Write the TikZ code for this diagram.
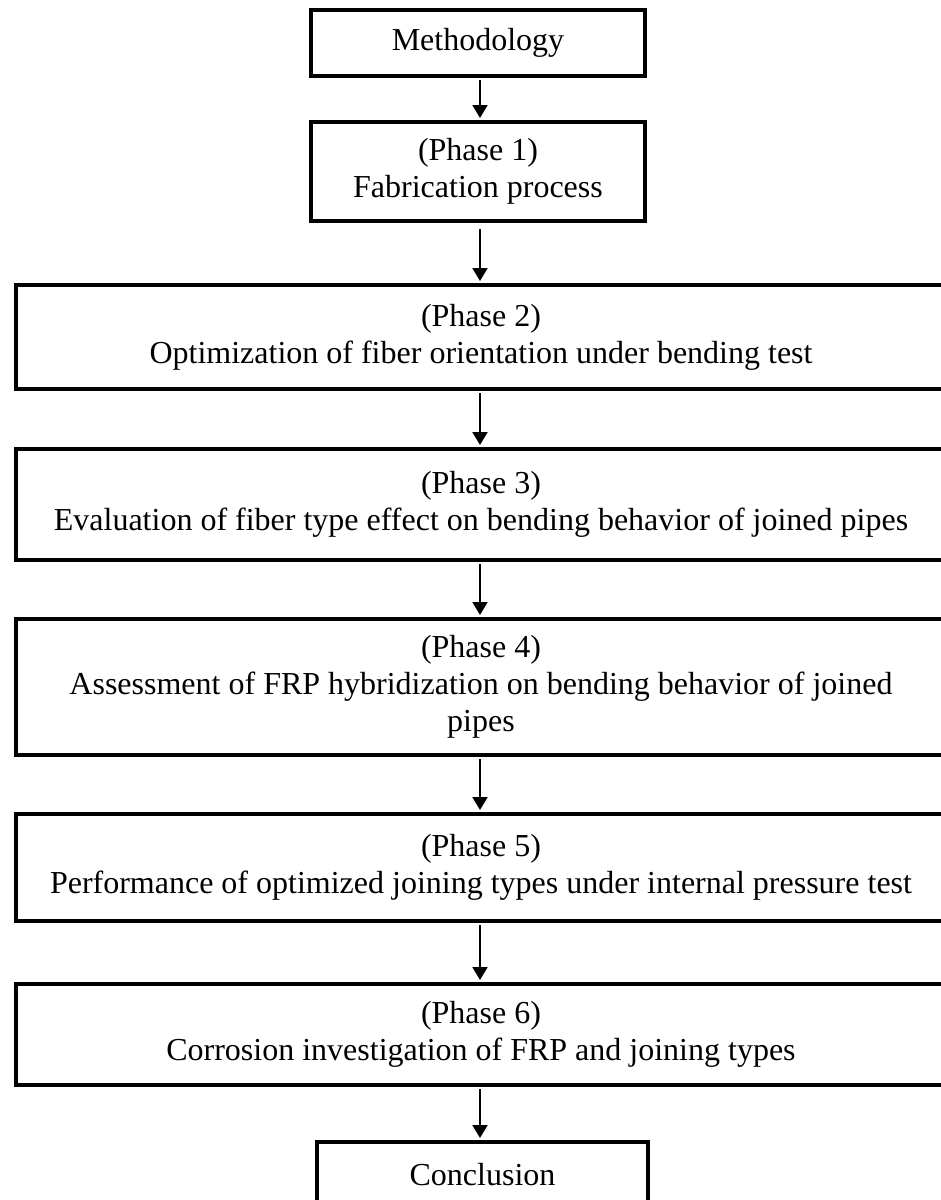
\documentclass[tikz,border=0pt]{standalone}
\usepackage{fontspec}
\setmainfont{Liberation Serif}
\usetikzlibrary{arrows.meta}
\tikzset{
  boxstyle/.style={draw=black, line width=4pt, rectangle, inner sep=0pt, align=center,
    font=\fontsize{32}{37}\selectfont, text=black},
  phasebox/.style={boxstyle, minimum width=930pt},
  smallbox/.style={boxstyle, minimum width=334pt},
  flowarrow/.style={draw=black, line width=2pt, -{Triangle[width=15pt,length=13pt]},
    shorten >=2pt, shorten <=2pt}
}
\begin{document}
\begin{tikzpicture}[x=1pt,y=-1pt]
\clip (0,0) rectangle (941,1200);
\fill[white] (0,0) rectangle (941,1200);
\node[smallbox, minimum height=66pt] (meth) at (478,43) {Methodology};
\node[smallbox, minimum height=99pt] (p1) at (478,171.5) {(Phase 1)\\Fabrication process};
\node[phasebox, minimum height=104pt] (p2) at (481,337) {(Phase 2)\\Optimization of fiber orientation under bending test};
\node[phasebox, minimum height=111pt] (p3) at (481,504.5) {(Phase 3)\\Evaluation of fiber type effect on bending behavior of joined pipes};
\node[phasebox, minimum height=136pt] (p4) at (481,687) {(Phase 4)\\Assessment of FRP hybridization on bending behavior of joined\\pipes};
\node[phasebox, minimum height=107pt] (p5) at (481,867.5) {(Phase 5)\\Performance of optimized joining types under internal pressure test};
\node[phasebox, minimum height=101pt] (p6) at (481,1034.5) {(Phase 6)\\Corrosion investigation of FRP and joining types};
\node[boxstyle, minimum width=331pt, minimum height=66pt] (concl) at (482.5,1175) {Conclusion};
\coordinate (ax) at (480,0);
\draw[flowarrow] (meth.south -| ax) -- (p1.north -| ax);
\draw[flowarrow, shorten <=6pt] (p1.south -| ax) -- (p2.north -| ax);
\draw[flowarrow] (p2.south -| ax) -- (p3.north -| ax);
\draw[flowarrow] (p3.south -| ax) -- (p4.north -| ax);
\draw[flowarrow] (p4.south -| ax) -- (p5.north -| ax);
\draw[flowarrow] (p5.south -| ax) -- (p6.north -| ax);
\draw[flowarrow] (p6.south -| ax) -- (concl.north -| ax);
\end{tikzpicture}
\end{document}
